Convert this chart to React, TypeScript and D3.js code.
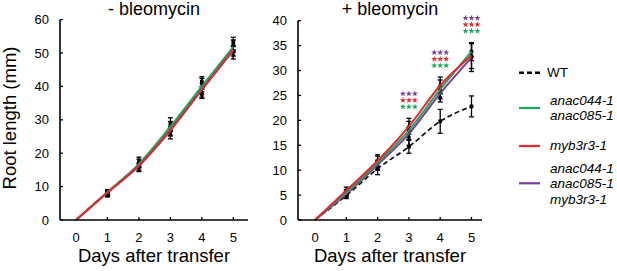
import React from "react";
import * as d3 from "d3";

const days = [0, 1, 2, 3, 4, 5];
const xTicks = [0, 1, 2, 3, 4, 5];
const yTicksLeft = [0, 10, 20, 30, 40, 50, 60];
const yTicksRight = [0, 5, 10, 15, 20, 25, 30, 35, 40];

// - bleomycin: measured means (markers) and error bars
const leftWT = [0, 8.3, 17.5, 29.0, 41.4, 53.4];
const leftWTErr = [0, 0.8, 1.3, 1.6, 1.5, 1.3];
const leftDouble = [0, 8.0, 17.0, 28.0, 40.8, 52.4];
const leftDoubleErr = [0, 0.8, 1.2, 1.5, 1.6, 1.5];
const leftMyb = [0, 7.8, 16.0, 25.6, 38.0, 50.5];
const leftMybErr = [0, 0.7, 1.1, 1.3, 1.2, 1.4];
const leftTriple = [0, 7.6, 15.5, 26.5, 37.4, 49.4];
const leftTripleErr = [0, 0.7, 1.0, 1.3, 1.0, 1.2];
// - bleomycin: drawn (fitted) curves
const leftWTLine = [0, 8.3, 16.7, 27.6, 39.6, 51.4];
const leftDoubleLine = [0, 8.4, 16.8, 28.0, 40.0, 51.8];
const leftMybLine = [0, 8.2, 16.3, 26.8, 39.0, 51.0];
const leftTripleLine = [0, 8.2, 16.2, 27.2, 39.0, 50.8];

// + bleomycin
const rightWT = [0, 4.9, 10.3, 14.7, 19.8, 22.8];
const rightWTErr = [0, 0.6, 1.2, 1.3, 2.4, 2.1];
const rightDouble = [0, 5.5, 11.5, 18.0, 26.2, 33.8];
const rightDoubleErr = [0, 0.6, 1.3, 1.8, 1.9, 1.8];
const rightMyb = [0, 5.9, 11.9, 18.8, 27.0, 33.0];
const rightMybErr = [0, 0.7, 1.2, 1.6, 1.7, 2.6];
const rightTriple = [0, 5.2, 11.0, 16.6, 24.6, 32.6];
const rightTripleErr = [0, 0.6, 1.0, 1.6, 0.9, 2.8];
const rightWTLine = [0, 4.9, 10.3, 14.7, 19.8, 22.8];
const rightDoubleLine = [0, 5.5, 11.5, 18.0, 26.2, 33.8];
const rightMybLine = [0, 5.9, 11.9, 18.8, 27.0, 33.0];
const rightTripleLine = [0, 5.2, 11.1, 17.3, 25.4, 32.6];

const starDays = [3, 4, 5];

const seriesNames = ["WT", "double", "myb", "triple"];
const colors = ["#000000", "#1aa85a", "#e8262b", "#7a3f9d"];
const legendLabels = [["WT"], ["anac044-1", "anac085-1"], ["myb3r3-1"], ["anac044-1", "anac085-1", "myb3r3-1"]];

const font = "Liberation Sans, Arial, Helvetica, sans-serif";

type Panel = {
  title: string;
  yMax: number;
  yTicks: number[];
  axisX: number;
  axisEnd: number;
  x0: number;
  x5: number;
  yTop: number;
  vals: number[][];
  errs: number[][];
  lines: number[][];
  stars: boolean;
};

const panels: Panel[] = [
  {
    title: "- bleomycin",
    yMax: 60,
    yTicks: yTicksLeft,
    axisX: 60,
    axisEnd: 248,
    x0: 76,
    x5: 233.3,
    yTop: 19.6,
    vals: [leftWT, leftDouble, leftMyb, leftTriple],
    errs: [leftWTErr, leftDoubleErr, leftMybErr, leftTripleErr],
    lines: [leftWTLine, leftDoubleLine, leftMybLine, leftTripleLine],
    stars: false,
  },
  {
    title: "+ bleomycin",
    yMax: 40,
    yTicks: yTicksRight,
    axisX: 298,
    axisEnd: 482,
    x0: 315,
    x5: 471.5,
    yTop: 20.7,
    vals: [rightWT, rightDouble, rightMyb, rightTriple],
    errs: [rightWTErr, rightDoubleErr, rightMybErr, rightTripleErr],
    lines: [rightWTLine, rightDoubleLine, rightMybLine, rightTripleLine],
    stars: true,
  },
];

const BASE = 220;
const starPath = d3.symbol(d3.symbolStar, 12)() as string;

function PanelView({ p }: { p: Panel }) {
  const x = d3.scaleLinear().domain([0, 5]).range([p.x0, p.x5]);
  const y = d3.scaleLinear().domain([0, p.yMax]).range([BASE, p.yTop]);
  const line = d3
    .line<number>()
    .x((_, i) => x(days[i]))
    .y((d) => y(d))
    .curve(d3.curveMonotoneX);
  const cx = (p.axisX + p.axisEnd) / 2 + 2;
  const order = [0, 3, 1, 2];
  const markerShapes = [d3.symbolSquare, d3.symbolCircle, d3.symbolTriangle, d3.symbolDiamond];
  return (
    <g>
      <text x={cx - 2} y={15} textAnchor="middle" fontSize={18} fontFamily={font}>
        {p.title}
      </text>
      {p.vals.map((vals, s) =>
        vals.map((v, i) =>
          i === 0 ? null : (
            <g key={`e${s}-${i}`} stroke="#000" strokeWidth={1.3}>
              <line x1={x(days[i])} x2={x(days[i])} y1={y(v - p.errs[s][i])} y2={y(v + p.errs[s][i])} />
              <line x1={x(days[i]) - 2.5} x2={x(days[i]) + 2.5} y1={y(v - p.errs[s][i])} y2={y(v - p.errs[s][i])} />
              <line x1={x(days[i]) - 2.5} x2={x(days[i]) + 2.5} y1={y(v + p.errs[s][i])} y2={y(v + p.errs[s][i])} />
              <path
                d={d3.symbol(markerShapes[s], 14)() as string}
                transform={`translate(${x(days[i])},${y(v)})`}
                fill="#000"
                stroke="none"
              />
            </g>
          )
        )
      )}
      {order.map((s) => (
        <path
          key={`l${s}`}
          d={line(p.lines[s]) as string}
          fill="none"
          stroke={colors[s]}
          strokeWidth={s === 0 ? 1.6 : 2}
          strokeDasharray={s === 0 ? "5,3" : undefined}
        />
      ))}
      <line x1={p.axisX} x2={p.axisX} y1={BASE} y2={y(p.yMax)} stroke="#000" strokeWidth={1.6} />
      <line x1={p.axisX} x2={p.axisEnd} y1={BASE} y2={BASE} stroke="#000" strokeWidth={1.6} />
      {p.yTicks.map((t) => (
        <g key={`yt${t}`}>
          <line x1={p.axisX} x2={p.axisX + 3} y1={y(t)} y2={y(t)} stroke="#000" strokeWidth={1.3} />
          <text x={p.axisX - 11} y={y(t)} dy="0.35em" textAnchor="end" fontSize={13} fontFamily={font}>
            {t}
          </text>
        </g>
      ))}
      {xTicks.map((t) => (
        <g key={`xt${t}`}>
          {t > 0 && <line x1={x(t)} x2={x(t)} y1={BASE} y2={BASE - 3} stroke="#000" strokeWidth={1.3} />}
          <text x={x(t)} y={241.5} textAnchor="middle" fontSize={13} fontFamily={font}>
            {t}
          </text>
        </g>
      ))}
      <text x={cx - 2} y={262} textAnchor="middle" fontSize={18.5} fontFamily={font}>
        Days after transfer
      </text>
      {p.stars &&
        starDays.map((d) => {
          const top = y(Math.max(...p.vals.map((v, s) => v[d] + p.errs[s][d])));
          const rowsColors = [colors[3], colors[2], colors[1]];
          return rowsColors.map((c, r) =>
            [-1, 0, 1].map((k) => (
              <path
                key={`st${d}-${r}-${k}`}
                d={starPath}
                fill={c}
                transform={`translate(${x(d) + k * 6},${top - 24.5 + r * 6.5})`}
              />
            ))
          );
        })}
    </g>
  );
}

function Legend() {
  const lineY = [72.7, 108, 146, 183.3];
  const textTop = [72.7, 100, 145.5, 168];
  return (
    <g>
      {seriesNames.map((n, s) => (
        <g key={n}>
          <line
            x1={519}
            x2={540}
            y1={lineY[s]}
            y2={lineY[s]}
            stroke={colors[s]}
            strokeWidth={s === 0 ? 2.4 : 2.2}
            strokeDasharray={s === 0 ? "5,3" : undefined}
          />
          {legendLabels[s].map((t, j) => (
            <text
              key={t + j}
              x={s === 0 ? 547 : 550}
              y={textTop[s] + j * 15.5}
              dy="0.35em"
              fontSize={13.5}
              fontStyle={s === 0 ? "normal" : "italic"}
              fontFamily={font}
            >
              {t}
            </text>
          ))}
        </g>
      ))}
    </g>
  );
}

export default function App() {
  return (
    <svg width={617} height={271} style={{ position: "absolute", left: 0, top: 0, background: "#fff" }}>
      <rect width={617} height={271} fill="#fff" />
      <text
        transform="translate(10,118) rotate(-90)"
        textAnchor="middle"
        dy="0.35em"
        fontSize={18.5}
        fontFamily={font}
      >
        Root length (mm)
      </text>
      {panels.map((p) => (
        <PanelView key={p.title} p={p} />
      ))}
      <Legend />
    </svg>
  );
}
